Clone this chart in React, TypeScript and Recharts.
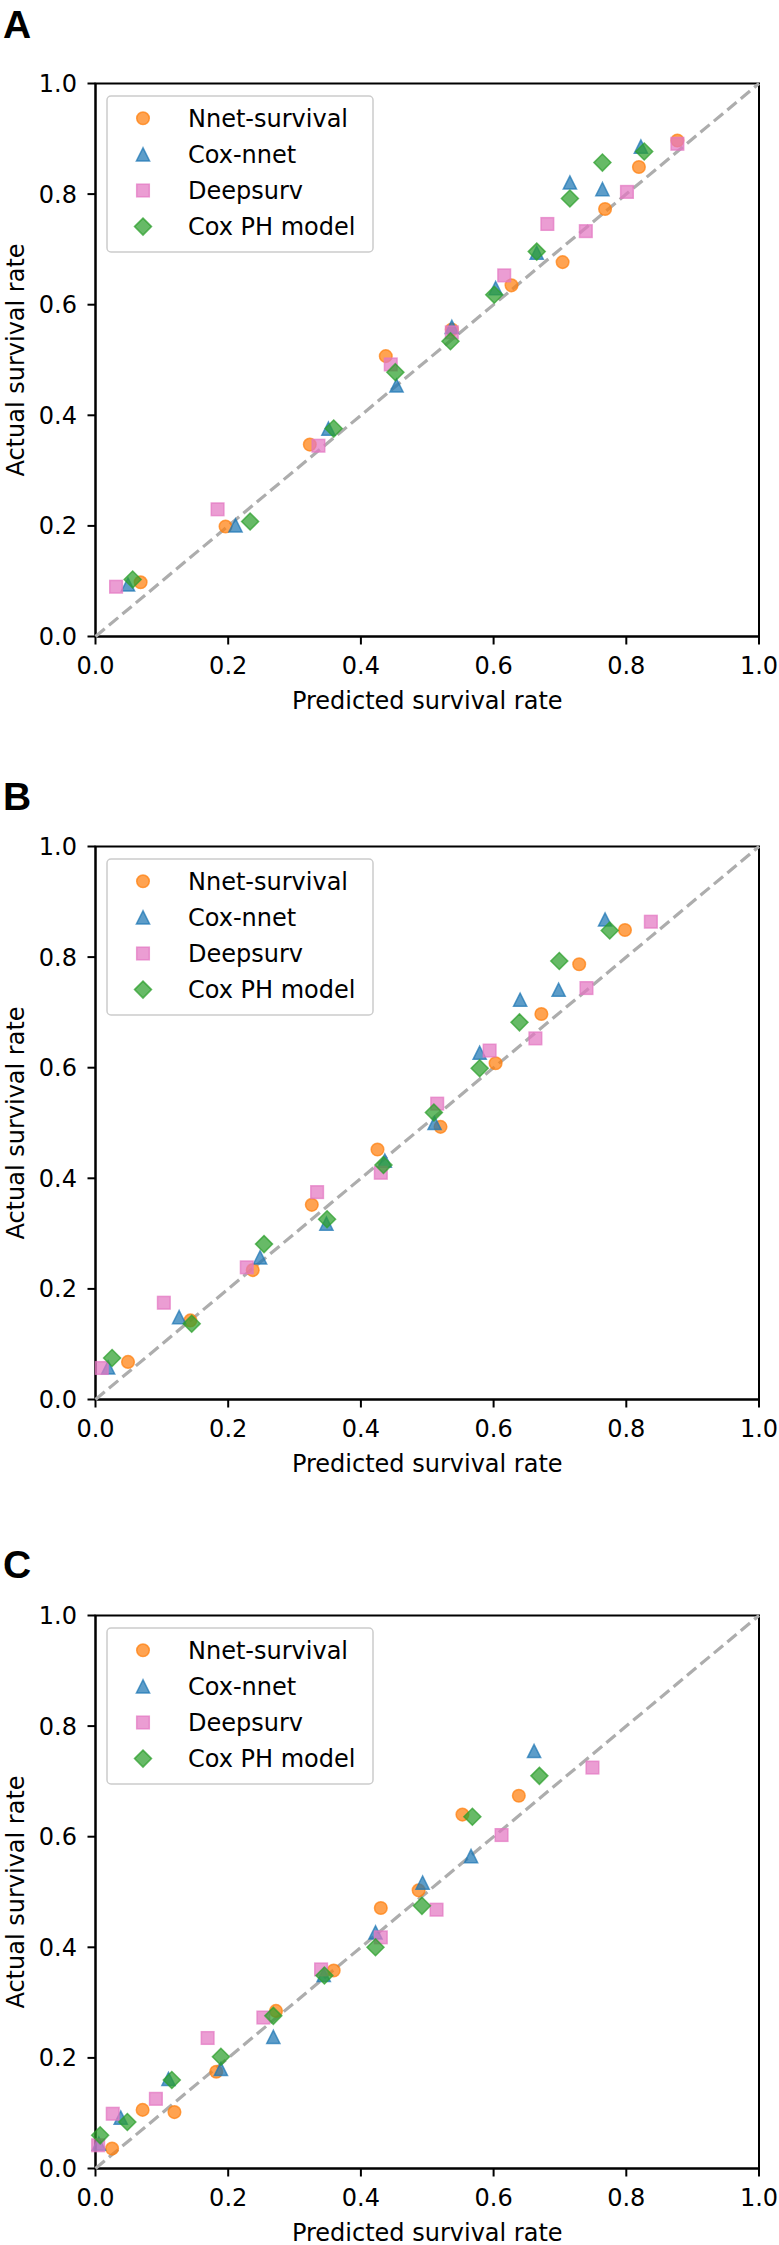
import React from 'react';
import { ScatterChart, Scatter, XAxis, YAxis, ReferenceArea, Legend } from 'recharts';

type Pt = [number, number];

const TICKS = [0, 0.2, 0.4, 0.6, 0.8, 1.0];
const SERIES_NAMES = ['Nnet-survival', 'Cox-nnet', 'Deepsurv', 'Cox PH model'];
const COLORS = ['#ff7f0e', '#1f77b4', '#e377c2', '#2ca02c'];
const SHAPES = ['circle', 'triangle', 'square', 'diamond'];
const PANEL_LETTERS = ['A', 'B', 'C'];
const X_LABEL = 'Predicted survival rate';
const Y_LABEL = 'Actual survival rate';
const DIAGONAL: Pt[] = [[0, 0], [1, 1]];

// Panel A: [predicted, actual]
const A_NNET: Pt[] = [[0.068, 0.098], [0.196, 0.199], [0.323, 0.347], [0.4375, 0.507], [0.537, 0.555], [0.627, 0.635], [0.704, 0.677], [0.768, 0.773], [0.819, 0.849], [0.877, 0.897]];
const A_COXNNET: Pt[] = [[0.049, 0.094], [0.211, 0.201], [0.351, 0.376], [0.4537, 0.454], [0.537, 0.56], [0.603, 0.63], [0.665, 0.694], [0.715, 0.821], [0.764, 0.809], [0.822, 0.886]];
const A_DEEPSURV: Pt[] = [[0.031, 0.09], [0.184, 0.23], [0.336, 0.345], [0.445, 0.492], [0.537, 0.55], [0.616, 0.653], [0.681, 0.746], [0.739, 0.733], [0.801, 0.804], [0.877, 0.891]];
const A_COXPH: Pt[] = [[0.056, 0.103], [0.233, 0.208], [0.359, 0.376], [0.452, 0.478], [0.535, 0.534], [0.601, 0.618], [0.665, 0.696], [0.715, 0.792], [0.764, 0.857], [0.827, 0.877]];

// Panel B
const B_NNET: Pt[] = [[0.049, 0.068], [0.143, 0.143], [0.237, 0.234], [0.326, 0.352], [0.425, 0.452], [0.52, 0.493], [0.603, 0.608], [0.672, 0.697], [0.729, 0.787], [0.798, 0.849]];
const B_COXNNET: Pt[] = [[0.019, 0.058], [0.126, 0.149], [0.248, 0.257], [0.348, 0.318], [0.436, 0.432], [0.511, 0.5], [0.579, 0.627], [0.64, 0.723], [0.698, 0.741], [0.768, 0.868]];
const B_DEEPSURV: Pt[] = [[0.0095, 0.057], [0.103, 0.175], [0.228, 0.239], [0.334, 0.375], [0.43, 0.41], [0.515, 0.535], [0.594, 0.631], [0.663, 0.653], [0.74, 0.744], [0.837, 0.864]];
const B_COXPH: Pt[] = [[0.025, 0.075], [0.145, 0.137], [0.254, 0.281], [0.349, 0.326], [0.434, 0.424], [0.51, 0.519], [0.579, 0.599], [0.639, 0.682], [0.699, 0.793], [0.775, 0.848]];

// Panel C
const C_NNET: Pt[] = [[0.025, 0.036], [0.071, 0.106], [0.119, 0.102], [0.182, 0.175], [0.272, 0.285], [0.359, 0.358], [0.43, 0.471], [0.487, 0.503], [0.553, 0.64], [0.638, 0.674]];
const C_COXNNET: Pt[] = [[0.005, 0.045], [0.038, 0.092], [0.11, 0.162], [0.189, 0.18], [0.268, 0.238], [0.344, 0.35], [0.422, 0.427], [0.493, 0.517], [0.566, 0.565], [0.661, 0.755]];
const C_DEEPSURV: Pt[] = [[0.004, 0.042], [0.026, 0.099], [0.091, 0.126], [0.169, 0.236], [0.253, 0.273], [0.34, 0.36], [0.43, 0.418], [0.514, 0.468], [0.612, 0.603], [0.749, 0.725]];
const C_COXPH: Pt[] = [[0.007, 0.06], [0.048, 0.084], [0.115, 0.16], [0.189, 0.202], [0.268, 0.276], [0.345, 0.349], [0.422, 0.4], [0.492, 0.475], [0.568, 0.636], [0.669, 0.71]];

const PANELS: Pt[][][] = [
  [A_NNET, A_COXNNET, A_DEEPSURV, A_COXPH],
  [B_NNET, B_COXNNET, B_DEEPSURV, B_COXPH],
  [C_NNET, C_COXNNET, C_DEEPSURV, C_COXPH],
];

const toObjs = (pts: Pt[]) => pts.map(([x, y]) => ({ x, y }));

const FONT = "'DejaVu Sans', sans-serif";
const ALPHA = 0.72;

// layout constants
const W = 779;
const PLOT_TOP = 83.5;
const PLOT_H = 553;
const X_AXIS_H = 80;
const BOTTOM = 10;
const CHART_H = PLOT_TOP + PLOT_H + X_AXIS_H + BOTTOM;
const PANEL_TOPS = [0, 762.5, 1531.5];
const LETTER_BASELINES = [38, 810, 1578];

function Marker({ kind, color, cx, cy }: { kind: string; color: string; cx: number; cy: number }) {
  const common = { fill: color, fillOpacity: ALPHA, stroke: color, strokeOpacity: ALPHA, strokeWidth: 1.5 };
  if (cx == null || cy == null) return <g />;
  switch (kind) {
    case 'circle':
      return <circle cx={cx} cy={cy} r={6.3} {...common} />;
    case 'triangle': {
      const h = 6.6;
      return <polygon points={`${cx},${cy - h} ${cx - h},${cy + h} ${cx + h},${cy + h}`} {...common} strokeLinejoin="miter" />;
    }
    case 'square': {
      const s = 6.3;
      return <rect x={cx - s} y={cy - s} width={2 * s} height={2 * s} {...common} />;
    }
    default: {
      const d = 8.5;
      return <polygon points={`${cx},${cy - d} ${cx + d},${cy} ${cx},${cy + d} ${cx - d},${cy}`} {...common} />;
    }
  }
}

const LegendBox = () => (
  <svg width={270} height={160} style={{ display: 'block' }}>
    <rect x={1} y={1} width={266} height={156} rx={4} ry={4} fill="#ffffff" fillOpacity={0.8} stroke="#cccccc" strokeWidth={1.5} />
    {SERIES_NAMES.map((n, i) => {
      const cy = 23.3 + i * 36.1;
      return (
        <g key={n}>
          <Marker kind={SHAPES[i]} color={COLORS[i]} cx={37} cy={cy} />
          <text x={82} y={cy + 8.3} fontSize={24} fontFamily={FONT} fill="#000">{n}</text>
        </g>
      );
    })}
  </svg>
);

function Panel({ series }: { series: Pt[][] }) {
  return (
    <ScatterChart
      width={W}
      height={CHART_H}
      margin={{ top: PLOT_TOP, right: 20, bottom: BOTTOM, left: 0 }}
    >
      <XAxis
        type="number"
        dataKey="x"
        domain={[0, 1]}
        ticks={TICKS}
        interval={0}
        tickFormatter={(v: number) => v.toFixed(1)}
        height={X_AXIS_H}
        tickSize={8}
        tickMargin={12.6}
        axisLine={{ stroke: '#000', strokeWidth: 2 }}
        tickLine={{ stroke: '#000', strokeWidth: 2 }}
        tick={{ fontSize: 24, fill: '#000', fontFamily: FONT }}
        label={(p: any) => {
          const vb = p.viewBox || {};
          return (
            <text x={vb.x + vb.width / 2} y={vb.y + 72.3} textAnchor="middle" fontSize={24} fontFamily={FONT} fill="#000">
              {X_LABEL}
            </text>
          );
        }}
      />
      <YAxis
        type="number"
        dataKey="y"
        domain={[0, 1]}
        ticks={TICKS}
        interval={0}
        tickFormatter={(v: number) => v.toFixed(1)}
        width={95.5}
        tickSize={8}
        tickMargin={10.5}
        axisLine={{ stroke: '#000', strokeWidth: 2 }}
        tickLine={{ stroke: '#000', strokeWidth: 2 }}
        tick={{ fontSize: 24, fill: '#000', fontFamily: FONT }}
        label={(p: any) => {
          const vb = p.viewBox || {};
          const cy = vb.y + vb.height / 2;
          return (
            <text x={24} y={cy} transform={`rotate(-90 24 ${cy})`} textAnchor="middle" fontSize={24} fontFamily={FONT} fill="#000">
              {Y_LABEL}
            </text>
          );
        }}
      />
      <ReferenceArea x1={0} x2={1} y1={0} y2={1} fill="none" fillOpacity={0} stroke="#000" strokeWidth={2} ifOverflow="visible" />
      <Scatter
        name="diagonal"
        data={toObjs(DIAGONAL)}
        line={{ stroke: '#adadad', strokeWidth: 3.2, strokeDasharray: '12 5.5' }}
        shape={() => <g />}
        legendType="none"
        isAnimationActive={false}
      />
      {series.map((pts, i) => (
        <Scatter
          key={SERIES_NAMES[i]}
          name={SERIES_NAMES[i]}
          data={toObjs(pts)}
          fill={COLORS[i]}
          shape={(p: any) => <Marker kind={SHAPES[i]} color={COLORS[i]} cx={p.cx} cy={p.cy} />}
          isAnimationActive={false}
        />
      ))}
      <Legend
        layout="horizontal"
        verticalAlign="middle"
        align="center"
        wrapperStyle={{ left: 106, top: PLOT_TOP + 11.5, width: 270, height: 160 }}
        content={() => <LegendBox />}
      />
    </ScatterChart>
  );
}

export default function App() {
  return (
    <div style={{ position: 'absolute', left: 0, top: 0, width: W, height: 2245, background: '#fff', overflow: 'hidden' }}>
      {PANELS.map((series, i) => (
        <div key={i} style={{ position: 'absolute', left: 0, top: PANEL_TOPS[i], width: W, height: CHART_H }}>
          <Panel series={series} />
        </div>
      ))}
      <svg width={W} height={2245} style={{ position: 'absolute', left: 0, top: 0, pointerEvents: 'none' }}>
        {PANEL_LETTERS.map((l, i) => (
          <text key={l} x={3} y={LETTER_BASELINES[i]} fontSize={39} fontWeight="bold" fontFamily="'Liberation Sans', Arial, sans-serif" fill="#000">
            {l}
          </text>
        ))}
      </svg>
    </div>
  );
}
